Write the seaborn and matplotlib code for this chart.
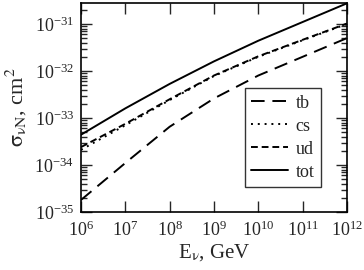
import matplotlib
matplotlib.use('Agg')
import matplotlib.pyplot as plt
import numpy as np
import pandas as pd
import seaborn as sns

# neutrino energy, GeV
energy = [1e6, 1e7, 1e8, 1e9, 1e10, 1e11, 1e12]
# cross sections, cm^2
sigma_tb = [1.8e-35, 1.1e-34, 6.5e-34, 2.6e-33, 8.0e-33, 2.0e-32, 5.0e-32]
sigma_cs = [2.1e-34, 7.0e-34, 2.4e-33, 7.8e-33, 2.0e-32, 4.5e-32, 1.0e-31]
sigma_ud = [2.4e-34, 7.5e-34, 2.5e-33, 8.0e-33, 2.05e-32, 4.6e-32, 1.02e-31]
sigma_tot = [4.4e-34, 1.6e-33, 5.3e-33, 1.6e-32, 4.4e-32, 1.1e-31, 2.75e-31]

series = ['tb', 'cs', 'ud', 'tot']
styles = {'tb': (0, (7, 4)), 'cs': (0, (1, 2.5)), 'ud': (0, (3.5, 2)), 'tot': '-'}


def plot_sigma():
    sns.set_style('ticks')
    plt.rcParams['font.family'] = ['Liberation Serif', 'DejaVu Serif']
    plt.rcParams['mathtext.fontset'] = 'stix'
    plt.rcParams['axes.unicode_minus'] = False

    df = pd.DataFrame({'E': energy, 'tb': sigma_tb, 'cs': sigma_cs,
                       'ud': sigma_ud, 'tot': sigma_tot})

    fig = plt.figure(figsize=(3.64, 2.70), dpi=100)
    ax = fig.add_axes([0.2225, 0.215, 0.7305, 0.774])
    for name in series:
        sns.lineplot(x='E', y=name, data=df, ax=ax, color='black', lw=1.4,
                     linestyle=styles[name], label=name)

    ax.set_xscale('log')
    ax.set_yscale('log')
    ax.set_xlim(1e6, 1e12)
    ax.set_ylim(1e-35, 2.8e-31)
    ax.set_xticks([1e6, 1e7, 1e8, 1e9, 1e10, 1e11, 1e12])
    ax.set_yticks([1e-35, 1e-34, 1e-33, 1e-32, 1e-31])
    ax.tick_params(which='both', direction='in', top=True, right=True,
                   labelsize=13, width=1)
    ax.tick_params(which='major', length=8)
    ax.tick_params(axis='x', which='major', pad=6)
    ax.tick_params(axis='y', which='major', pad=5)
    ax.tick_params(which='minor', length=4)
    for s in ax.spines.values():
        s.set_linewidth(1.2)
        s.set_color('black')

    ax.set_xlabel(r'E$_\mathrm{\nu}$, GeV', fontsize=15, va='top')
    ax.xaxis.set_label_coords(0.5, -0.145)
    ax.set_ylabel(r'$\mathrm{\sigma_{\nu N}}$, cm$^2$', fontsize=16)
    ax.yaxis.set_label_coords(-0.195, 0.5)

    leg = ax.legend(loc='lower right', bbox_to_anchor=(0.902, 0.12),
                    fontsize=13, frameon=True, fancybox=False,
                    handlelength=2.0, handletextpad=0.45, borderpad=0.35,
                    labelspacing=0.33, borderaxespad=0)
    leg.get_frame().set_edgecolor('black')
    leg.get_frame().set_linewidth(1)

    fig.savefig('out.png', dpi=100)


def main():
    return plot_sigma()


if __name__ == "__main__":
    main()
